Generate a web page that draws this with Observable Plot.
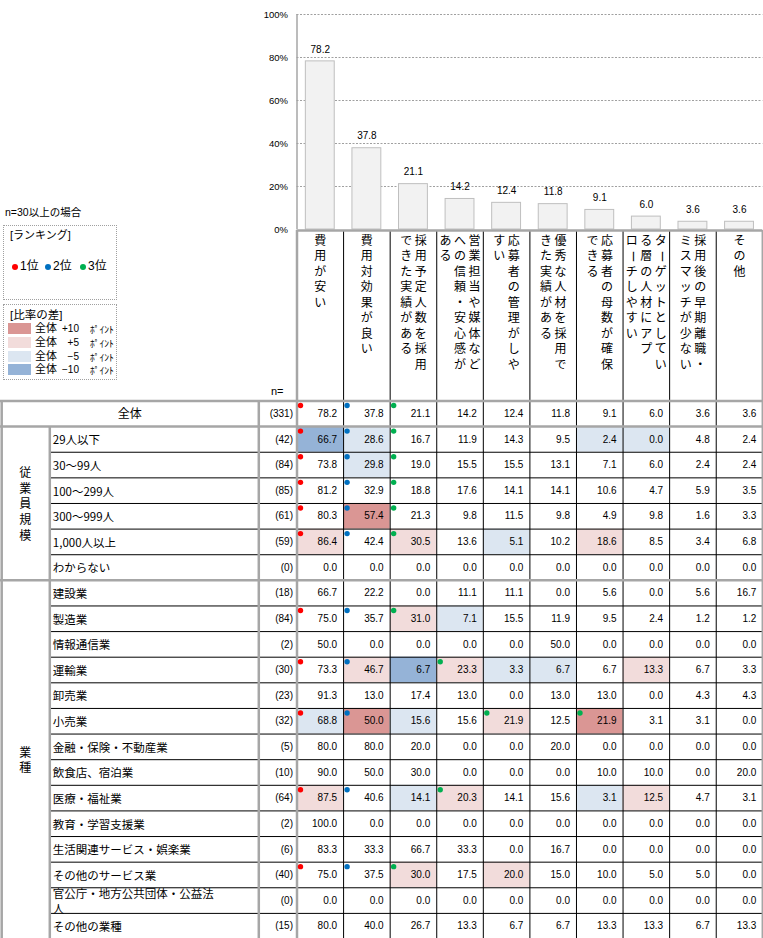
<!DOCTYPE html>
<html><head><meta charset="utf-8">
<script src="https://cdn.jsdelivr.net/npm/d3@7"></script>
<script src="https://cdn.jsdelivr.net/npm/@observablehq/plot@0.6"></script>
<style>
body{margin:0;background:#fff;}
#wrap{position:relative;width:763px;height:938px;overflow:hidden;background:#fff;font-family:"Liberation Sans","Noto Sans CJK JP",sans-serif;color:#000;}
#wrap svg{position:absolute;left:0;}
.lbl{position:absolute;white-space:nowrap;line-height:1;z-index:2;}
.box{position:absolute;border:1px dotted #a0a0a0;box-sizing:border-box;z-index:2;background:#fff;}
.sw{position:absolute;width:23px;height:11px;z-index:3;}
.dotc{position:absolute;width:6px;height:6px;border-radius:50%;z-index:3;}
</style></head><body><div id="wrap"></div>
<script>
// ---------- data ----------
const answers = ["費用が安い","費用対効果が良い","採用予定人数を採用できた実績がある","営業担当や媒体などへの信頼・安心感がある","応募者の管理がしやすい","優秀な人材を採用できた実績がある","応募者の母数が確保できる","ターゲットとしている層の人材にアプローチしやすい","採用後の早期離職・ミスマッチが少ない","その他"];
const totalValues = [78.2,37.8,21.1,14.2,12.4,11.8,9.1,6.0,3.6,3.6];
const yTicks = [0,20,40,60,80,100];
const groupNames = ["従業員規模","業種"];
const rowLabels = ["全体","29人以下","30～99人","100～299人","300～999人","1,000人以上","わからない","建設業","製造業","情報通信業","運輸業","卸売業","小売業","金融・保険・不動産業","飲食店、宿泊業","医療・福祉業","教育・学習支援業","生活関連サービス・娯楽業","その他のサービス業","官公庁・地方公共団体・公益法人","その他の業種"];
const rowGroups = [null,"従業員規模","従業員規模","従業員規模","従業員規模","従業員規模","従業員規模","業種","業種","業種","業種","業種","業種","業種","業種","業種","業種","業種","業種","業種","業種"];
const rowN = [331,42,84,85,61,59,0,18,84,2,30,23,32,5,10,64,2,6,40,0,15];
const segmentValues = [
  [66.7,28.6,16.7,11.9,14.3,9.5,2.4,0.0,4.8,2.4],
  [73.8,29.8,19.0,15.5,15.5,13.1,7.1,6.0,2.4,2.4],
  [81.2,32.9,18.8,17.6,14.1,14.1,10.6,4.7,5.9,3.5],
  [80.3,57.4,21.3,9.8,11.5,9.8,4.9,9.8,1.6,3.3],
  [86.4,42.4,30.5,13.6,5.1,10.2,18.6,8.5,3.4,6.8],
  [0.0,0.0,0.0,0.0,0.0,0.0,0.0,0.0,0.0,0.0],
  [66.7,22.2,0.0,11.1,11.1,0.0,5.6,0.0,5.6,16.7],
  [75.0,35.7,31.0,7.1,15.5,11.9,9.5,2.4,1.2,1.2],
  [50.0,0.0,0.0,0.0,0.0,50.0,0.0,0.0,0.0,0.0],
  [73.3,46.7,6.7,23.3,3.3,6.7,6.7,13.3,6.7,3.3],
  [91.3,13.0,17.4,13.0,0.0,13.0,13.0,0.0,4.3,4.3],
  [68.8,50.0,15.6,15.6,21.9,12.5,21.9,3.1,3.1,0.0],
  [80.0,80.0,20.0,0.0,0.0,20.0,0.0,0.0,0.0,0.0],
  [90.0,50.0,30.0,0.0,0.0,0.0,10.0,10.0,0.0,20.0],
  [87.5,40.6,14.1,20.3,14.1,15.6,3.1,12.5,4.7,3.1],
  [100.0,0.0,0.0,0.0,0.0,0.0,0.0,0.0,0.0,0.0],
  [83.3,33.3,66.7,33.3,0.0,16.7,0.0,0.0,0.0,0.0],
  [75.0,37.5,30.0,17.5,20.0,15.0,10.0,5.0,5.0,0.0],
  [0.0,0.0,0.0,0.0,0.0,0.0,0.0,0.0,0.0,0.0],
  [80.0,40.0,26.7,13.3,6.7,6.7,13.3,13.3,6.7,13.3]
];
const MIN_N = 30;
const rankNames = ["1位","2位","3位"];
const rankColors = ["#ff0000","#0070c0","#00b050"];
const diffLabels = ["+10","+5","−5","−10"];
const diffColors = ["#da9694","#f2dcdb","#dce6f1","#95b3d7"];

// ---------- layout ----------
const NUM_FONT = '"Liberation Sans","Noto Sans CJK JP",sans-serif';
const JP_FONT = '"Noto Sans CJK JP",sans-serif';
const DATA_LEFT = 296.5, DATA_RIGHT = 762.3;
const GROUP_RIGHT = 49.3, LABEL_RIGHT = 258.3;
const NC = answers.length, NR = rowLabels.length;
const COLW = (DATA_RIGHT - DATA_LEFT) / NC;
const ROWH = 25.62, HEADER_H = 170.5, TOPPAD = 4, PLOTB_TOP = 226;
const HU = HEADER_H / ROWH;
const px2x = px => (px - DATA_LEFT) / COLW;
const GRAY = "#a6a6a6";

const wrap = document.getElementById("wrap");

// ---------- bar chart ----------
const bars = answers.map((a, i) => ({a, i, v: totalValues[i]}));
const plotA = Plot.plot({
  width: 763, height: 230,
  marginTop: 14, marginBottom: 1, marginLeft: DATA_LEFT, marginRight: 763 - DATA_RIGHT,
  x: {domain: [0, NC], axis: null},
  y: {domain: [0, 100], ticks: yTicks, tickFormat: d => d + "%", tickSize: 0, tickPadding: 9, label: null},
  style: {fontFamily: NUM_FONT, fontSize: "9.5px", background: "transparent", overflow: "visible", color: "#000"},
  marks: [
    Plot.ruleY(yTicks.filter(d => d > 0), {stroke: "#a0a0a0", strokeDasharray: "2,1.5"}),
    Plot.ruleX([0], {stroke: GRAY, strokeWidth: 1.5}),
    Plot.rect(bars, {x1: d => d.i + 0.19, x2: d => d.i + 0.81, y1: d => 0, y2: d => d.v, fill: "#f2f2f2", stroke: "#bfbfbf", strokeWidth: 1}),
    Plot.text(bars, {x: d => d.i + 0.5, y: d => d.v, text: d => d.v.toFixed(1), dy: -12, fontSize: 10, fill: "#000"})
  ]
});
plotA.style.top = "0px";
wrap.appendChild(plotA);

// ---------- table ----------
const tableValues = [totalValues, ...segmentValues];
const cells = [];
tableValues.forEach((vals, r) => {
  const eligible = rowN[r] >= MIN_N;
  vals.forEach((v, c) => {
    const rank = eligible ? 1 + vals.filter(u => u > v).length : 99;
    let cls = -1;
    if (r > 0 && eligible) {
      const d = Math.round((v - totalValues[c]) * 10) / 10;
      cls = d >= 10 ? 0 : d >= 5 ? 1 : d <= -10 ? 3 : d <= -5 ? 2 : -1;
    }
    cells.push({r, c, v, rank, cls});
  });
});

function wrapVertical(s, n) {
  const chars = Array.from(s), lines = [];
  const noStart = "ーッャュョァィゥェォっゃゅょ、。";
  let i = 0;
  while (i < chars.length) {
    let end = Math.min(i + n, chars.length);
    while (end < chars.length && noStart.includes(chars[end]) && end - i > 1) end--;
    lines.push(chars.slice(i, end).join(""));
    i = end;
  }
  return lines;
}
const HLINE = 14.5, HTOP = 10.5, HPITCH = 15.5;
const headerChars = [];
answers.forEach((a, c) => {
  const lines = wrapVertical(a, 9);
  lines.forEach((ln, j) => Array.from(ln).forEach((ch, k) => {
    headerChars.push({ch, x: c + 0.5 + ((lines.length - 1) / 2 - j) * HLINE / COLW, y: -HU + (HTOP + k * HPITCH) / ROWH});
  }));
});

const groupLabels = groupNames.map(g => {
  const rs = rowGroups.map((gg, r) => gg === g ? r : -1).filter(r => r >= 0);
  return {text: Array.from(g).join("\n"), y: (d3.min(rs) + d3.max(rs) + 1) / 2};
});

function wrapLabel(s, max) {
  const chars = Array.from(s), out = [];
  for (let i = 0; i < chars.length; i += max) out.push(chars.slice(i, i + max).join(""));
  return out.join("\n");
}
const rows = rowLabels.map((label, r) => ({r, label: wrapLabel(label, 14), n: rowN[r], g: rowGroups[r]}));
const innerBounds = d3.range(1, NR).filter(r => rowGroups[r] && rowGroups[r] === rowGroups[r - 1]);
const groupBounds = d3.range(0, NR).filter(r => r === 0 || rowGroups[r] !== rowGroups[r - 1]);

const plotB = Plot.plot({
  width: 763, height: Math.ceil(TOPPAD + HEADER_H + NR * ROWH),
  margin: 0,
  x: {domain: [px2x(0), NC], range: [0, DATA_RIGHT], axis: null},
  y: {domain: [-HU, NR], range: [TOPPAD, TOPPAD + HEADER_H + NR * ROWH], axis: null},
  color: {type: "identity"},
  style: {fontFamily: NUM_FONT, fontSize: "10px", background: "transparent", overflow: "visible", color: "#000"},
  marks: [
    Plot.rect(cells.filter(d => d.cls >= 0), {x1: d => d.c, x2: d => d.c + 1, y1: d => d.r, y2: d => d.r + 1, fill: d => diffColors[d.cls]}),
    // thin black grid
    Plot.ruleX(d3.range(1, NC), {y1: () => -HU, y2: () => NR, stroke: "#000", strokeWidth: 1}),
    Plot.ruleY(innerBounds, {x1: () => px2x(GROUP_RIGHT), x2: () => NC, stroke: "#000", strokeWidth: 1}),
    // thick gray borders
    Plot.ruleY(groupBounds, {x1: () => px2x(0), x2: () => NC, stroke: GRAY, strokeWidth: 2.5}),
    Plot.ruleY([-HU], {x1: () => 0, x2: () => NC, stroke: GRAY, strokeWidth: 2.5}),
    Plot.ruleX([px2x(1.2), px2x(LABEL_RIGHT)], {y1: () => 0, y2: () => NR, stroke: GRAY, strokeWidth: 2.5}),
    Plot.ruleX([px2x(GROUP_RIGHT)], {y1: () => 1, y2: () => NR, stroke: GRAY, strokeWidth: 2.5}),
    Plot.ruleX([0, NC], {y1: () => -HU, y2: () => NR, stroke: GRAY, strokeWidth: 2.5}),
    // header
    Plot.text(headerChars, {x: "x", y: "y", text: "ch", rotate: d => d.ch === "ー" ? 90 : 0, fontSize: 12, fontFamily: JP_FONT, fill: "#000"}),
    // group labels
    Plot.text(groupLabels, {x: () => px2x(GROUP_RIGHT / 2), y: "y", text: "text", lineHeight: 1.3, fontSize: 12, fontFamily: JP_FONT, fill: "#000"}),
    // row labels
    Plot.text(rows.slice(0, 1), {x: () => px2x(LABEL_RIGHT / 2), y: d => d.r + 0.5, text: "label", fontSize: 12, fontFamily: JP_FONT, fill: "#000"}),
    Plot.text(rows.slice(1), {x: () => px2x(GROUP_RIGHT), dx: 3, y: d => d.r + 0.5, text: "label", textAnchor: "start", lineHeight: 1.32, fontSize: 11.5, fontFamily: JP_FONT, fill: "#000"}),
    Plot.text(rows, {x: () => 0, dx: -4, y: d => d.r + 0.5, text: d => `(${d.n})`, textAnchor: "end", fontSize: 10, fill: "#000"}),
    // values
    Plot.text(cells, {x: d => d.c + 1, dx: -6.5, y: d => d.r + 0.5, text: d => d.v.toFixed(1), textAnchor: "end", fontSize: 10, fill: "#000"}),
    // rank dots
    Plot.dot(cells.filter(d => d.rank <= 3), {x: d => d.c, y: d => d.r, dx: 3.5, dy: 4.5, r: 2.7, fill: d => rankColors[d.rank - 1], stroke: null})
  ]
});
plotB.style.top = PLOTB_TOP + "px";
wrap.appendChild(plotB);

// ---------- notes & legends (HTML) ----------
function el(cls, css, text) {
  const e = document.createElement("div");
  e.className = cls; e.style.cssText = css;
  if (text != null) e.textContent = text;
  wrap.appendChild(e); return e;
}
el("lbl", "left:5px;top:207px;font-size:10.5px;", `n=${MIN_N}以上の場合`);
el("box", "left:3px;top:225px;width:114px;height:75px;");
el("lbl", "left:10px;top:230px;font-size:11px;", "[ランキング]");
const dotX = [15, 48, 83];
rankNames.forEach((name, i) => {
  el("dotc", `left:${dotX[i] - 3}px;top:264px;background:${rankColors[i]};`);
  el("lbl", `left:${dotX[i] + 5}px;top:260px;font-size:12px;`, name);
});
el("box", "left:3px;top:304px;width:114px;height:76px;");
el("lbl", "left:10px;top:310px;font-size:11.5px;", "[比率の差]");
const swTop = [323, 337, 351, 364];
diffLabels.forEach((lab, i) => {
  el("sw", `left:8px;top:${swTop[i]}px;background:${diffColors[i]};`);
  el("lbl", `left:35px;top:${swTop[i]}px;font-size:11px;`, "全体");
  el("lbl", `left:55px;width:24px;text-align:right;top:${swTop[i] + 1}px;font-size:10px;`, lab);
  el("lbl", `left:90px;top:${swTop[i] + 1.5}px;font-size:9.5px;`, "ﾎﾟｲﾝﾄ");
});
el("lbl", "left:271px;top:386px;font-size:11px;", "n=");
</script></body></html>
